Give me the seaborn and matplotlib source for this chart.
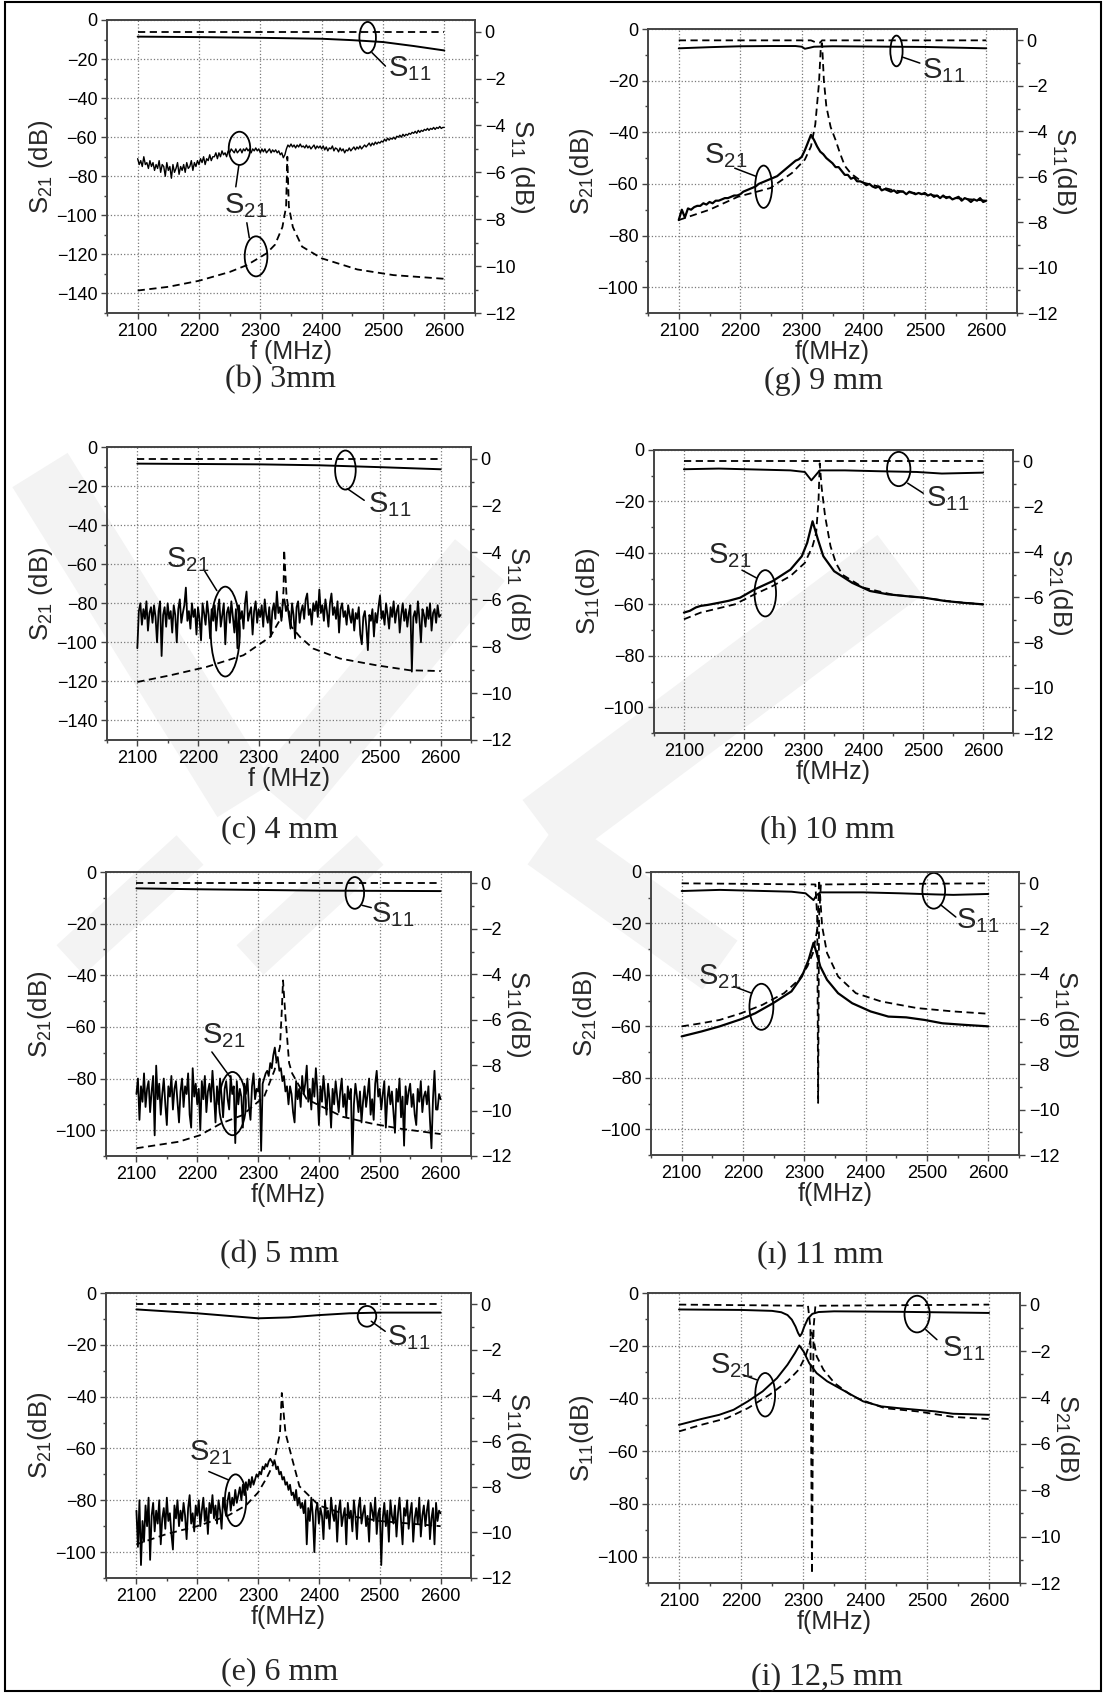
"""
S21 / S11 against frequency for the eight gap cases, laid out in two columns.
Measured traces are solid, simulated traces dashed.
"""
import matplotlib
matplotlib.use("Agg")
import matplotlib.pyplot as plt
import numpy as np
import seaborn as sns
from matplotlib.patches import Ellipse, Polygon, Rectangle
from matplotlib.ticker import MultipleLocator

FIG_W, FIG_H = 1103, 1693

# frequency sweeps of the measured (noisy) traces
f_fine = np.arange(2100, 2600.01, 2.5)    # 201 points
f_coarse = np.arange(2100, 2600.01, 5.0)  # 101 points

flat_f = [2100, 2600]
flat_s11 = [0.0, 0.0]

# ---------------- (b) 3 mm ----------------
b_s21_meas = [
    -71, -74, -72, -75, -70, -74, -73, -76, -72, -75,
    -73, -77, -74, -76, -72, -78, -74, -75, -80, -73,
    -77, -75, -81, -74, -78, -76, -73, -79, -75, -77,
    -74, -78, -73, -76, -75, -72, -77, -73, -75, -72,
    -74, -71, -73, -70, -74, -71, -72, -69, -72, -70,
    -70, -68, -71, -68, -70, -67, -69, -68, -70, -67,
    -68, -66, -67, -68, -66, -68, -67, -66, -68, -66,
    -67, -65.5, -67, -66, -68, -66, -67, -65.5, -67, -66,
    -68, -66, -67.5, -66, -68, -67, -66, -68, -66.5, -67.5,
    -66.5, -68, -67, -69, -68, -70.5, -69, -66, -64, -65,
    -63.5, -65, -64, -65.5, -64, -65, -63.5, -65, -64.5, -65.5,
    -64, -65.5, -64.5, -66, -65, -64, -66, -64.5, -65.5, -64.5,
    -66, -64.5, -66.5, -65, -67, -65.5, -66, -64.5, -67, -65.5,
    -66, -67.5, -65.5, -67, -66, -68, -66.5, -67, -65.5, -67,
    -66, -65, -66.5, -65, -66, -64.5, -66, -65, -64, -65,
    -64, -63, -64.5, -63, -64, -62.5, -63.5, -62.5, -63, -62,
    -62.5, -61, -62, -60.5, -61.5, -60.5, -61, -60, -61, -59.5,
    -60, -59, -60, -58.5, -59.5, -58.5, -59, -58, -58.5, -57.5,
    -58, -57, -58, -56.5, -57.5, -56.5, -57, -56, -56.5, -55.5,
    -56.5, -55.5, -56, -55, -56, -55, -55.5, -54.5, -55.5, -55,
    -55,
]
b_s21_sim_f = [2100, 2150, 2200, 2250, 2278, 2310, 2324, 2336, 2342, 2344,
               2346.5, 2353, 2368, 2400, 2458, 2517, 2600]
b_s21_sim = [-138.5, -136.6, -133.5, -129, -125.5, -119.5, -115, -106, -95.6, -70,
             -95.6, -106, -116, -122, -127.7, -130.6, -132.5]
b_s11_meas_f = [2100, 2200, 2300, 2400, 2450, 2500, 2550, 2600]
b_s11_meas = [-0.21, -0.23, -0.26, -0.30, -0.36, -0.44, -0.61, -0.80]

# ---------------- (c) 4 mm ----------------
c_s21_meas = [
    -103, -84, -80, -91, -83, -88, -79, -94, -85, -82,
    -90, -81, -87, -100, -84, -79, -107, -86, -82, -92,
    -80, -88, -84, -95, -81, -86, -100, -83, -78, -90,
    -85, -81, -72, -89, -84, -93, -80, -87, -83, -96,
    -82, -88, -99, -80, -85, -91, -79, -86, -98, -83,
    -89, -81, -94, -84, -78, -92, -86, -80, -101, -85,
    -82, -90, -79, -87, -95, -83, -103, -81, -88, -84,
    -93, -80, -74, -89, -85, -82, -96, -84, -79, -90,
    -83, -87, -81, -92, -78, -86, -90, -82, -97, -84,
    -80, -88, -74, -85, -82, -89, -79, -78, -84, -81,
    -87, -93, -80, -86, -98, -82, -79, -90, -84, -81,
    -88, -78, -75, -86, -83, -91, -80, -84, -79, -87,
    -73, -85, -81, -89, -78, -84, -92, -80, -75, -86,
    -82, -88, -79, -95, -83, -80, -87, -84, -91, -81,
    -86, -90, -83, -94, -85, -88, -82, -96, -101, -87,
    -84, -92, -104, -86, -89, -83, -97, -85, -90, -82,
    -76, -88, -84, -91, -80, -86, -93, -82, -87, -79,
    -90, -84, -81, -95, -86, -80, -89, -83, -92, -85,
    -81, -115, -87, -84, -90, -79, -88, -100, -83, -86,
    -92, -82, -88, -80, -94, -85, -83, -90, -81, -87,
    -86,
]
c_s21_sim_f = [2100, 2154, 2214, 2275, 2319, 2338, 2341, 2342, 2346, 2354,
               2368, 2390, 2434, 2495, 2549, 2600]
c_s21_sim = [-120.3, -116.9, -112.6, -106.6, -97.2, -86.9, -73.2, -52.6, -76.6, -92,
             -97.2, -103.2, -108.3, -111.8, -114.3, -114.7]
c_s11_meas_f = [2100, 2300, 2400, 2500, 2600]
c_s11_meas = [-0.21, -0.24, -0.28, -0.36, -0.45]

# ---------------- (d) 5 mm ----------------
d_s21_meas = [
    -86, -80, -96, -83, -89, -78, -91, -84, -81, -93,
    -85, -79, -102, -75, -88, -82, -94, -86, -80, -90,
    -98, -83, -87, -79, -92, -84, -81, -89, -97, -85,
    -80, -91, -83, -86, -78, -94, -99, -76, -87, -82,
    -90, -84, -100, -81, -88, -79, -93, -85, -82, -89,
    -77, -86, -97, -83, -90, -80, -87, -95, -84, -81,
    -88, -92, -79, -86, -83, -105, -81, -90, -84, -87,
    -99, -82, -86, -80, -91, -96, -83, -78, -88, -84,
    -85, -80, -108, -82, -80, -78, -77, -79, -74, -76,
    -71, -68, -73, -72, -77, -76, -81, -79, -85, -83,
    -90, -83, -86, -93, -97, -81, -88, -84, -91, -79,
    -86, -82, -75, -89, -84, -92, -80, -87, -76, -85,
    -98, -83, -89, -79, -86, -94, -82, -88, -99, -84,
    -90, -81, -87, -93, -85, -80, -91, -86, -95, -83,
    -88, -84, -112, -90, -82, -87, -93, -85, -97, -89,
    -83, -91, -86, -80, -94, -88, -96, -82, -77, -87,
    -84, -92, -86, -81, -99, -88, -83, -90, -85, -93,
    -101, -84, -89, -80, -95, -87, -106, -83, -90, -85,
    -82, -91, -86, -94, -98, -84, -89, -81, -93, -87,
    -85, -90, -83, -96, -107, -88, -77, -92, -92, -86,
    -88,
]
d_s21_sim_f = [2100, 2169, 2204, 2239, 2274, 2310, 2327, 2336, 2339, 2341,
               2345, 2351, 2356, 2380, 2439, 2486, 2533, 2600]
d_s21_sim = [-107, -104.5, -102, -97.4, -94.2, -87, -76.8, -67.7, -53.5, -42,
             -56, -74, -78, -88, -94.8, -97.4, -99.4, -101.5]
d_s11_meas_f = [2100, 2200, 2300, 2400, 2600]
d_s11_meas = [-0.22, -0.26, -0.29, -0.32, -0.34]

# ---------------- (e) 6 mm ----------------
e_s21_meas = [
    -84, -98, -80, -105, -88, -96, -82, -90, -79, -103,
    -86, -81, -92, -84, -89, -80, -97, -87, -83, -91,
    -79, -88, -85, -93, -99, -82, -87, -80, -90, -84,
    -88, -81, -86, -95, -83, -78, -89, -85, -92, -82,
    -86, -80, -90, -84, -79, -88, -83, -93, -81, -85,
    -78, -87, -82, -89, -80, -84, -91, -79, -83, -86,
    -80, -77, -84, -79, -82, -76, -81, -78, -75, -80,
    -74, -78, -73, -76, -72, -75, -71, -74, -72, -70,
    -71, -69, -70, -67, -68, -66, -67, -65, -64, -65,
    -66, -65, -68, -67, -70, -69, -72, -71, -74, -73,
    -76, -74, -78, -77, -80, -76, -82, -79, -83, -81,
    -85, -80, -97, -83, -88, -79, -86, -100, -84, -81,
    -89, -83, -86, -95, -80, -87, -84, -91, -79, -85,
    -88, -82, -96, -84, -80, -90, -86, -83, -97, -81,
    -87, -84, -92, -80, -86, -95, -83, -79, -89, -85,
    -82, -90, -86, -96, -81, -84, -88, -79, -93, -85,
    -83, -105, -87, -81, -90, -84, -96, -80, -86, -89,
    -82, -94, -85, -79, -88, -97, -83, -86, -80, -91,
    -85, -81, -96, -87, -83, -89, -79, -94, -86, -82,
    -90, -84, -80, -95, -87, -83, -97, -81, -88, -84,
    -85,
]
e_s21_sim_f = [2100, 2150, 2200, 2250, 2280, 2300, 2315, 2326, 2336, 2339,
               2345, 2356, 2368, 2400, 2450, 2500, 2600]
e_s21_sim = [-97, -93, -90, -86, -82, -77, -71, -65.6, -54, -38.6,
             -54, -64, -74.6, -82, -86, -88, -90]
e_s11_meas_f = [2100, 2200, 2300, 2350, 2400, 2450, 2500, 2600]
e_s11_meas = [-0.22, -0.39, -0.61, -0.57, -0.47, -0.39, -0.36, -0.36]

# ---------------- (g) 9 mm ----------------
g_s21_meas = [
    -74, -70, -73, -69.5, -70, -69, -68.5, -68.5, -67.5, -68,
    -67, -67.5, -66.5, -66.5, -66, -65.5, -65.5, -65, -64.5, -64.5,
    -64, -63, -62.5, -62, -61.5, -61, -60, -59.5, -59, -58.5,
    -58, -57.5, -57, -56, -55, -54, -53, -52, -51, -50.5,
    -49.5, -47, -44, -41, -43, -45.5, -47.5, -48.5, -50, -51,
    -52, -53.5, -53.5, -55, -56.5, -56.5, -58, -57.5, -59, -59,
    -59.5, -60.5, -60, -61, -61.5, -61, -62.5, -62, -62.5, -63,
    -62.5, -63.5, -63, -63, -64, -63, -63.5, -64, -63.5, -64,
    -63.5, -64.5, -64, -65, -64.5, -65.5, -64.5, -65.5, -65, -66,
    -65.5, -65, -66.5, -65.5, -66, -67, -66, -66.5, -65.5, -67,
    -66.5,
]
g_s21_sim_f = [2100, 2150, 2196, 2249, 2284, 2305, 2315, 2322, 2328, 2331, 2333,
               2336, 2340, 2347, 2355, 2362, 2370, 2380, 2400, 2450, 2500, 2550, 2600]
g_s21_sim = [-74, -70, -65, -61.6, -55.8, -50.6, -45.5, -37, -21, -7, -5.5,
             -20, -30, -38, -43, -48, -53, -56, -59.5, -62.5, -64, -65.5, -66.5]
g_s11_meas_f = [2100, 2150, 2200, 2250, 2290, 2300, 2305, 2312, 2320, 2350, 2400, 2500, 2600]
g_s11_meas = [-0.35, -0.30, -0.26, -0.25, -0.25, -0.28, -0.37, -0.33, -0.28, -0.26,
              -0.27, -0.29, -0.35]
g_s11_sim_f = [2100, 2315, 2322, 2330, 2333, 2600]
g_s11_sim = [0.0, 0.0, -0.08, -0.1, 0.0, 0.0]

# ---------------- (h) 10 mm ----------------
h_s21_meas_f = [2100, 2110, 2120, 2128, 2140, 2158, 2175, 2194, 2218, 2248, 2278, 2297, 2306,
                2315, 2324, 2333, 2351, 2381, 2411, 2441, 2471, 2501, 2537, 2567, 2600]
h_s21_meas = [-63.2, -62.5, -61.2, -60.6, -60.2, -59.4, -58.6, -57.4, -54.2, -51, -46.5, -41.3,
              -36.1, -27.7, -34.8, -41.3, -47.1, -51.6, -54.8, -56.1, -56.8, -57.4, -58.7,
              -59.4, -60]
h_s21_sim_f = [2100, 2128, 2185, 2218, 2248, 2278, 2302, 2315, 2321, 2325, 2327, 2330, 2336,
               2345, 2354, 2365, 2400, 2450, 2500, 2550, 2600]
h_s21_sim = [-65.8, -63.2, -60, -56.1, -52.9, -49, -43.9, -37.4, -32.3, -19.4, -5.2, -14.2,
             -25.8, -37.4, -43.9, -48.5, -53.5, -56.3, -57.4, -59, -60]
h_s11_meas_f = [2100, 2158, 2278, 2302, 2313, 2320, 2327, 2369, 2429, 2489, 2531, 2600]
h_s11_meas = [-0.35, -0.32, -0.40, -0.47, -0.84, -0.62, -0.40, -0.40, -0.44, -0.47, -0.54, -0.50]

# ---------------- (ı) 11 mm ----------------
k_s21_meas_f = [2100, 2132, 2162, 2197, 2220, 2249, 2279, 2296, 2307, 2315, 2320, 2326, 2337,
                2355, 2378, 2408, 2437, 2466, 2496, 2525, 2560, 2600]
k_s21_meas = [-63.9, -62, -60, -57.2, -54.9, -51, -46.4, -40.6, -34.1, -27.5, -31.5, -36.7,
              -41.9, -47.1, -51, -54.2, -56.2, -56.5, -57.5, -58.8, -59.4, -60]
k_s21_sim_f = [2100, 2132, 2162, 2197, 2232, 2267, 2291, 2305, 2314, 2321, 2323, 2324, 2329,
               2337, 2355, 2384, 2425, 2484, 2543, 2600]
k_s21_sim = [-60, -58.8, -57.5, -54.9, -51.6, -47.1, -41.9, -36.7, -31.5, -22.4, -12.1, -3,
             -21.1, -31.5, -40.6, -47.1, -50.3, -52.9, -54.2, -55.1]
k_s11_meas_f = [2100, 2162, 2279, 2302, 2315, 2320, 2326, 2396, 2455, 2513, 2543, 2600]
k_s11_meas = [-0.34, -0.29, -0.37, -0.44, -0.74, -0.52, -0.40, -0.40, -0.44, -0.49, -0.51, -0.47]
k_s11_sim_f = [2100, 2318, 2321, 2322.5, 2324, 2327, 2600]
k_s11_sim = [0.0, -0.05, -1.5, -9.7, -1.5, -0.05, 0.0]

# ---------------- (i) 12,5 mm ----------------
i_s21_meas_f = [2100, 2136, 2165, 2188, 2211, 2235, 2258, 2275, 2287, 2294, 2301, 2310, 2322,
                2339, 2368, 2397, 2426, 2455, 2484, 2513, 2542, 2600]
i_s21_meas = [-50, -47.8, -46.2, -44.3, -41.1, -37.3, -32.3, -27.2, -22.8, -19.9, -22.2, -26.6,
              -30.4, -33.5, -37.3, -41.1, -43, -43.7, -44.3, -44.9, -45.8, -46.2]
i_s21_sim_f = [2100, 2136, 2177, 2211, 2246, 2275, 2293, 2304, 2311, 2314, 2318, 2322, 2333,
               2351, 2380, 2409, 2432, 2484, 2542, 2600]
i_s21_sim = [-52.5, -50, -47.5, -43.7, -38.6, -33.5, -29.1, -24, -19, -15, -19, -24, -29.1,
             -34.2, -39.2, -41.8, -43.7, -44.9, -47, -47.8]
i_s11_meas_f = [2100, 2200, 2250, 2265, 2275, 2282, 2288, 2292, 2295, 2298, 2302, 2308, 2315,
                2325, 2350, 2455, 2600]
i_s11_meas = [-0.21, -0.23, -0.27, -0.33, -0.45, -0.65, -0.95, -1.22, -1.36, -1.25, -0.95,
              -0.6, -0.4, -0.32, -0.29, -0.31, -0.36]
i_s11_sim_f = [2100, 2308, 2312, 2314.5, 2317, 2320, 2600]
i_s11_sim = [0.0, -0.05, -1.0, -11.6, -1.0, -0.05, 0.0]

SOLID = "-"
DASH = (0, (4, 2.5))

# panel boxes are (left, top, right, bottom) in output pixels
PANELS = [
    dict(box=(107, 20, 475, 313), ybot=-150, cap="(b) 3mm", cap_xy=(280, 380),
         ylab="S$_{21}$ (dB)", y2lab="S$_{11}$ (dB)", xlab="f (MHz)",
         left=[(f_fine, b_s21_meas, SOLID, 1.0), (b_s21_sim_f, b_s21_sim, DASH, 1.3)],
         right=[(b_s11_meas_f, b_s11_meas, SOLID, 1.4), (flat_f, flat_s11, DASH, 1.3)],
         ell=[(2475, -9, 27, 16), (2266, -65.7, 35, 17), (2293, -121, 37, 20.5)],
         lead=[(2482, -16.7, 2504, -23.6), (2265, -74.3, 2260, -85.4),
               (2282, -111.5, 2278, -103.8)],
         lab=[(2508, -29, "11"), (2240, -99, "21")]),
    dict(box=(648, 29, 1017, 313), ybot=-110, cap="(g) 9 mm", cap_xy=(824, 381),
         ylab="S$_{21}$(dB)", y2lab="S$_{11}$(dB)", xlab="f(MHz)",
         left=[(f_coarse, g_s21_meas, SOLID, 1.6), (g_s21_sim_f, g_s21_sim, DASH, 1.3)],
         right=[(g_s11_meas_f, g_s11_meas, SOLID, 1.4), (g_s11_sim_f, g_s11_sim, DASH, 1.3)],
         ell=[(2454, -8.5, 20, 11.9), (2238, -61.1, 27.5, 16.4)],
         lead=[(2464, -10.9, 2492, -13.2), (2191, -53.9, 2226, -57.1)],
         lab=[(2495, -19, "11"), (2141, -51.9, "21")]),
    dict(box=(107, 447, 471, 740), ybot=-150, cap="(c) 4 mm", cap_xy=(280, 830),
         ylab="S$_{21}$ (dB)", y2lab="S$_{11}$ (dB)", xlab="f (MHz)",
         left=[(f_fine, c_s21_meas, SOLID, 1.3), (c_s21_sim_f, c_s21_sim, DASH, 1.3)],
         right=[(c_s11_meas_f, c_s11_meas, SOLID, 1.4), (flat_f, flat_s11, DASH, 1.3)],
         ell=[(2443, -11.8, 34, 20), (2245, -94.5, 48, 46)],
         lead=[(2446, -21.3, 2474, -27.3), (2209, -62.5, 2231, -73.5)],
         lab=[(2481, -33.3, "11"), (2147, -61.5, "21")]),
    dict(box=(654, 450, 1013, 733), ybot=-110, cap="(h) 10 mm", cap_xy=(827, 830),
         ylab="S$_{11}$(dB)", y2lab="S$_{21}$(dB)", xlab="f(MHz)",
         left=[(h_s21_meas_f, h_s21_meas, SOLID, 1.6), (h_s21_sim_f, h_s21_sim, DASH, 1.3)],
         right=[(h_s11_meas_f, h_s11_meas, SOLID, 1.4), (flat_f, flat_s11, DASH, 1.3)],
         ell=[(2459, -7.4, 39, 13.3), (2236, -55.7, 36, 18)],
         lead=[(2474, -12.9, 2500, -16.8), (2197, -46.7, 2221, -49.7)],
         lab=[(2504, -21.7, "11"), (2140, -43.9, "21")]),
    dict(box=(106, 872, 471, 1156), ybot=-110, cap="(d) 5 mm", cap_xy=(279, 1255),
         ylab="S$_{21}$(dB)", y2lab="S$_{11}$(dB)", xlab="f(MHz)",
         left=[(f_fine, d_s21_meas, SOLID, 1.3), (d_s21_sim_f, d_s21_sim, DASH, 1.3)],
         right=[(d_s11_meas_f, d_s11_meas, SOLID, 1.4), (flat_f, flat_s11, DASH, 1.3)],
         ell=[(2459, -8.1, 30.5, 12.3), (2258, -89.7, 44, 24.5)],
         lead=[(2471, -12.9, 2486, -13.8), (2224, -69.7, 2254, -79.4)],
         lab=[(2486, -19.4, "11"), (2207, -66.5, "21")]),
    dict(box=(651, 872, 1019, 1155), ybot=-110, cap="(ı) 11 mm", cap_xy=(820, 1255),
         ylab="S$_{21}$(dB)", y2lab="S$_{11}$(dB)", xlab="f(MHz)",
         left=[(k_s21_meas_f, k_s21_meas, SOLID, 1.6), (k_s21_sim_f, k_s21_sim, DASH, 1.3)],
         right=[(k_s11_meas_f, k_s11_meas, SOLID, 1.4), (k_s11_sim_f, k_s11_sim, DASH, 1.3)],
         ell=[(2511, -7.3, 37, 13.9), (2230, -52.4, 39, 17.9)],
         lead=[(2522, -12.7, 2547, -17.5), (2185, -44.5, 2214, -47.1)],
         lab=[(2548, -21.8, "11"), (2126, -43.8, "21")]),
    dict(box=(106, 1293, 471, 1578), ybot=-110, cap="(e) 6 mm", cap_xy=(280, 1672),
         ylab="S$_{21}$(dB)", y2lab="S$_{11}$(dB)", xlab="f(MHz)",
         left=[(f_fine, e_s21_meas, SOLID, 1.3), (e_s21_sim_f, e_s21_sim, DASH, 1.3)],
         right=[(e_s11_meas_f, e_s11_meas, SOLID, 1.4), (flat_f, flat_s11, DASH, 1.3)],
         ell=[(2479, -9, 30.5, 8), (2263, -80, 35, 20)],
         lead=[(2486, -10.9, 2509, -14.8), (2219, -68.9, 2251, -72.1)],
         lab=[(2512, -20, "11"), (2186, -64.4, "21")]),
    dict(box=(648, 1293, 1020, 1583), ybot=-110, cap="(i) 12,5 mm", cap_xy=(827, 1677),
         ylab="S$_{11}$(dB)", y2lab="S$_{21}$(dB)", xlab="f(MHz)",
         left=[(i_s21_meas_f, i_s21_meas, SOLID, 1.4), (i_s21_sim_f, i_s21_sim, DASH, 1.3)],
         right=[(i_s11_meas_f, i_s11_meas, SOLID, 1.4), (i_s11_sim_f, i_s11_sim, DASH, 1.3)],
         ell=[(2484, -8, 40.6, 13.9), (2239, -38.6, 32, 16.5)],
         lead=[(2498, -13.9, 2516, -17.7), (2203, -31, 2225, -32.9)],
         lab=[(2525, -24, "11"), (2150, -30.4, "21")]),
]

# faint background watermark bands: (start, end, thickness) in output pixels
WATERMARK = [
    ((40, 470), (245, 800), 65),
    ((280, 800), (480, 560), 65),
    ((545, 830), (900, 565), 75),
    ((545, 840), (720, 965), 60),
    ((70, 960), (190, 850), 40),
    ((250, 960), (370, 850), 40),
]

SPINE = "#444444"


def style_axis(ax):
    for sp in ax.spines.values():
        sp.set_visible(True)
        sp.set_color(SPINE)
        sp.set_linewidth(1.2)
    ax.tick_params(which="both", direction="out", color=SPINE, labelsize=13,
                   labelcolor="black", width=1.0)
    ax.tick_params(which="major", length=4.5, pad=2.5)
    ax.tick_params(which="minor", length=2.5)


def draw_panel(fig, sp):
    x0, y0, x1, y1 = sp["box"]
    w, h = x1 - x0, y1 - y0
    ax = fig.add_axes([x0 / FIG_W, 1 - y1 / FIG_H, w / FIG_W, h / FIG_H])
    ax.set_facecolor("none")
    ax2 = ax.twinx()

    for f, v, ls, lw in sp["left"]:
        sns.lineplot(x=f, y=v, ax=ax, color="black", linestyle=ls, linewidth=lw,
                     estimator=None, sort=False)
    for f, v, ls, lw in sp["right"]:
        sns.lineplot(x=f, y=v, ax=ax2, color="black", linestyle=ls, linewidth=lw,
                     estimator=None, sort=False)

    ax.set_xlim(2050, 2650)
    ax.set_ylim(sp["ybot"], 0)
    ax2.set_ylim(-12, 0.5)

    ax.xaxis.set_major_locator(MultipleLocator(100))
    ax.xaxis.set_minor_locator(MultipleLocator(50))
    ax.yaxis.set_major_locator(MultipleLocator(20))
    ax.yaxis.set_minor_locator(MultipleLocator(10))
    ax2.yaxis.set_major_locator(MultipleLocator(2))
    ax2.yaxis.set_minor_locator(MultipleLocator(1))

    style_axis(ax)
    style_axis(ax2)
    ax.tick_params(which="both", top=False, right=False)
    ax2.tick_params(which="both", left=False, top=False, bottom=False)

    ax.grid(True, which="major", linestyle=":", color="#7a7a7a", linewidth=0.9)
    ax.set_axisbelow(True)
    ax2.grid(False)

    ax.set_xlabel(sp["xlab"], fontsize=18)
    ax.xaxis.set_label_coords(0.5, -27 / h)
    ax.set_ylabel(sp["ylab"], fontsize=18.5)
    ax.yaxis.set_label_coords(-52 / w, 0.5)
    ax2.set_ylabel(sp["y2lab"], fontsize=18.5, rotation=270, va="bottom")
    ax2.yaxis.set_label_coords(1 + 33 / w, 0.5)

    for fc, vc, ew, eh in sp["ell"]:
        ax.add_patch(Ellipse((fc, vc), ew, eh, fill=False, edgecolor="black",
                             linewidth=1.3, clip_on=False, zorder=5))
    for fa, va, fb, vb in sp["lead"]:
        ax.plot([fa, fb], [va, vb], color="black", linewidth=1.1, zorder=5)
    for fl, vl, sub in sp["lab"]:
        ax.text(fl, vl, "S$_{%s}$" % sub, fontsize=21, ha="left", va="baseline",
                zorder=6)

    cx, cy = sp["cap_xy"]
    fig.text(cx / FIG_W, 1 - cy / FIG_H, sp["cap"], ha="center", va="center",
             family=["Liberation Serif", "DejaVu Serif"], fontsize=23)


def add_band(fig, p0, p1, thick):
    (xa, ya), (xb, yb) = p0, p1
    dx, dy = xb - xa, yb - ya
    n = np.hypot(dx, dy)
    ox, oy = -dy / n * thick / 2, dx / n * thick / 2
    corners = [(xa + ox, ya + oy), (xb + ox, yb + oy), (xb - ox, yb - oy), (xa - ox, ya - oy)]
    corners = [(px / FIG_W, 1 - py / FIG_H) for px, py in corners]
    fig.add_artist(Polygon(corners, closed=True, transform=fig.transFigure,
                           facecolor="#f3f3f3", edgecolor="none", zorder=-1))


sns.set_theme(style="ticks")
plt.rcParams["font.family"] = ["Liberation Sans", "DejaVu Sans"]
plt.rcParams["mathtext.fontset"] = "custom"
plt.rcParams["mathtext.rm"] = "Liberation Sans"
plt.rcParams["mathtext.it"] = "Liberation Sans:italic"
plt.rcParams["mathtext.bf"] = "Liberation Sans:bold"

fig = plt.figure(figsize=(FIG_W / 100, FIG_H / 100), dpi=100, facecolor="white")

for p0, p1, thick in WATERMARK:
    add_band(fig, p0, p1, thick)

for spec in PANELS:
    draw_panel(fig, spec)

fig.add_artist(Rectangle((5 / FIG_W, 1 - 1691 / FIG_H), 1096 / FIG_W, 1689 / FIG_H,
                         transform=fig.transFigure, fill=False, edgecolor="black",
                         linewidth=1.5))

fig.savefig("out.png", dpi=100, facecolor="white")
